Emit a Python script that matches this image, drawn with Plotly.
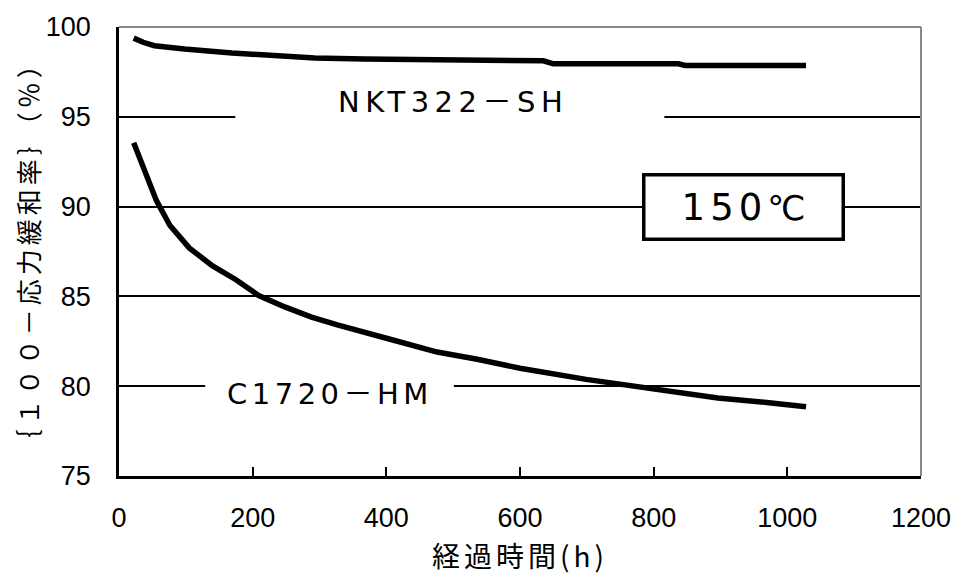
import plotly.graph_objects as go

# NKT322-SH series
nkt_h = [22, 36, 53, 98, 169, 234, 293, 367, 486, 536, 635, 650, 837, 847, 1028]
nkt_v = [99.38, 99.15, 98.96, 98.77, 98.55, 98.41, 98.28, 98.22, 98.17, 98.12, 98.12, 97.95, 97.95, 97.86, 97.86]

# C1720-HM series
c17_h = [22, 36, 56, 76, 105, 140, 175, 209, 249, 288, 328, 407, 476, 536, 600, 699, 798, 896, 976, 1028]
c17_v = [93.55, 92.2, 90.33, 88.96, 87.7, 86.7, 85.93, 85.05, 84.4, 83.85, 83.4, 82.6, 81.9, 81.5, 81.0, 80.38, 79.84, 79.34, 79.07, 78.85]

x_ticks = [0, 200, 400, 600, 800, 1000, 1200]
y_ticks = [75, 80, 85, 90, 95, 100]

label_nkt = "NKT322－SH"
label_c17 = "C1720－HM"
label_temp_num = "150"
label_temp_unit = "℃"
x_title = "経過時間(h)"
y_title = "｛１００－応力緩和率｝（％）"

num_font = "Liberation Sans, Arial, sans-serif"
lbl_font = "DejaVu Sans, Noto Sans CJK JP, sans-serif"
jp_font = "Noto Sans CJK JP, sans-serif"

fig = go.Figure()
fig.add_trace(go.Scatter(x=nkt_h, y=nkt_v, mode="lines",
                         line=dict(color="black", width=5.5), showlegend=False))
fig.add_trace(go.Scatter(x=c17_h, y=c17_v, mode="lines",
                         line=dict(color="black", width=5.5), showlegend=False))

fig.update_layout(
    width=963, height=577,
    margin=dict(l=119, r=35, t=21, b=101),
    paper_bgcolor="white", plot_bgcolor="white",
    xaxis=dict(range=[0, 1200], tickvals=x_ticks, ticktext=[str(v) for v in x_ticks],
               ticks="inside", ticklen=9, tickwidth=2, tickcolor="black",
               showline=True, linecolor="black", linewidth=2.5, showgrid=False,
               zeroline=False, tickfont=dict(family=num_font, size=27, color="black"),
               ticklabelstandoff=16),
    yaxis=dict(range=[75, 100], tickvals=y_ticks, ticktext=[str(v) for v in y_ticks],
               ticks="inside", ticklen=9, tickwidth=2, tickcolor="black",
               showline=True, linecolor="black", linewidth=2.5,
               showgrid=True, gridcolor="black", gridwidth=1.5, zeroline=False,
               tickfont=dict(family=num_font, size=27, color="black"),
               ticklabelstandoff=20),
    shapes=[
        # gray top/right frame
        dict(type="line", xref="paper", yref="paper", x0=0, x1=1, y0=1, y1=1,
             line=dict(color="#888888", width=2)),
        dict(type="line", xref="paper", yref="paper", x0=1, x1=1, y0=0, y1=1,
             line=dict(color="#888888", width=2)),
        # white label backgrounds breaking gridlines
        dict(type="rect", xref="x", yref="y", x0=174, x1=816, y0=94.3, y1=96.6,
             fillcolor="white", line=dict(width=0), layer="above"),
        dict(type="rect", xref="x", yref="y", x0=129, x1=501, y0=78.9, y1=81.0,
             fillcolor="white", line=dict(width=0), layer="above"),
    ],
    annotations=[
        dict(x=500, y=95.8, xref="x", yref="y",
             text="<span style='letter-spacing:5.5px'>" + label_nkt + "</span>",
             showarrow=False, font=dict(family=lbl_font, size=29, color="black")),
        dict(x=315, y=79.59, xref="x", yref="y",
             text="<span style='letter-spacing:4.5px'>" + label_c17 + "</span>",
             showarrow=False, font=dict(family=lbl_font, size=29, color="black")),
        dict(x=933.7, y=90.0, xref="x", yref="y",
             text="<span style='letter-spacing:5px'>" + label_temp_num + "</span>"
                  + "<span style='font-size:34px'>" + label_temp_unit + "</span>",
             showarrow=False, font=dict(family=lbl_font, size=37, color="black"),
             bgcolor="white", bordercolor="black", borderwidth=3.5, borderpad=0,
             width=196, height=61),
        # x-axis title
        dict(x=0.5, y=-0.176, xref="paper", yref="paper", xanchor="center", yanchor="middle",
             text="<span style='letter-spacing:4px'>" + x_title + "</span>",
             showarrow=False, font=dict(family=jp_font, size=28, color="black")),
        # y-axis title
        dict(x=-0.1137, y=0.50, xref="paper", yref="paper", xanchor="center", yanchor="middle",
             textangle=-90,
             text="<span style='letter-spacing:4px'>" + y_title + "</span>",
             showarrow=False, font=dict(family=jp_font, size=26, color="black")),
    ],
)

fig.write_html("out.html")
